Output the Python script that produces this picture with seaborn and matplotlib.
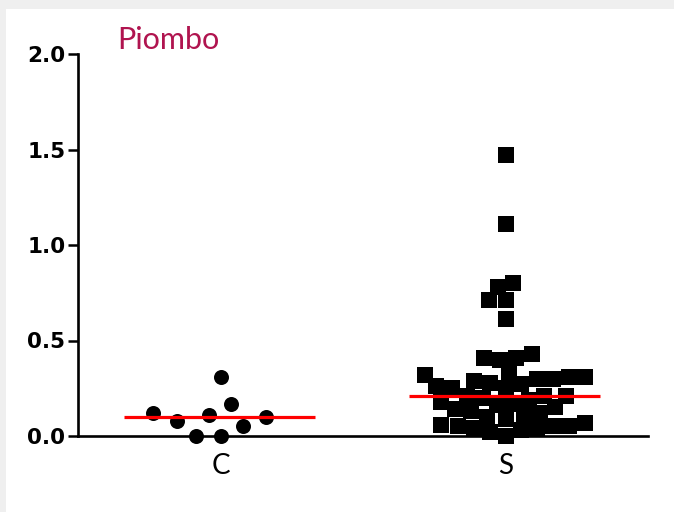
import matplotlib
matplotlib.use("Agg")
import matplotlib.pyplot as plt
from matplotlib.patches import Rectangle
import numpy as np
import pandas as pd
import seaborn as sns

# Lead (Piombo) levels per group
groups = ["C", "S"]
c_values = [0.12, 0.10, 0.05, 0.31, 0.17, 0.00, 0.00, 0.08, 0.11]
s_values = [1.47, 1.11, 0.80, 0.78, 0.71, 0.71, 0.61, 0.43, 0.41, 0.41, 0.40,
            0.33, 0.32, 0.31, 0.31, 0.30, 0.30, 0.29, 0.28, 0.27, 0.26, 0.25, 0.25, 0.21,
            0.21, 0.21, 0.20, 0.19, 0.18, 0.17, 0.16, 0.15, 0.14, 0.13, 0.12, 0.11,
            0.10, 0.09, 0.07, 0.06, 0.05, 0.05, 0.05, 0.04, 0.04, 0.03, 0.02, 0.00]
y_ticks = [0.0, 0.5, 1.0, 1.5, 2.0]
title = "Piombo"

df_c = pd.DataFrame({"group": "C", "value": c_values})
df_s = pd.DataFrame({"group": "S", "value": s_values})

sns.set_theme(style="ticks")
plt.rcParams["font.family"] = ["DejaVu Sans"]

fig = plt.figure(figsize=(6.74, 5.12), dpi=100)
fig.patch.set_facecolor("#efefef")
fig.add_artist(Rectangle((6 / 674, 0), 1, (512 - 9) / 512, transform=fig.transFigure,
                         facecolor="white", edgecolor="none", zorder=0))

ax = fig.add_axes([78 / 674, 76 / 512, 570 / 674, 382 / 512])
ax.set_facecolor("none")

# Swarm layout spacing (points) and the drawn marker sizes (points)
layout_sizes = {"C": 17.0, "S": 11.2}
marker_sizes = {"C": 10.8, "S": 12.2}

sns.swarmplot(data=df_c, x="group", y="value", order=groups, color="black",
              marker="o", size=layout_sizes["C"], linewidth=0, ax=ax,
              clip_on=False, zorder=3)
sns.swarmplot(data=df_s, x="group", y="value", order=groups, color="black",
              marker="s", size=layout_sizes["S"], linewidth=0, ax=ax,
              clip_on=False, zorder=3)

ax.set_xlim(-0.5, 1.5)
ax.set_ylim(0, 2.0)

# Fix the swarm positions, then draw the markers at their final size
fig.canvas.draw()
for coll, key in zip(ax.collections, groups):
    if "draw" in coll.__dict__:
        del coll.draw
    coll.set_sizes([marker_sizes[key] ** 2])

# Median lines
for i, vals in enumerate([c_values, s_values]):
    med = np.median(vals)
    ax.hlines(med, i - 0.34, i + 0.33, color="#ff0000", linewidth=2.3, zorder=4)

ax.set_yticks(y_ticks)
ax.set_yticklabels([f"{t:.1f}" for t in y_ticks], fontsize=15.5, fontweight="heavy")
ax.set_xticks([0, 1])
ax.set_xticklabels(groups, fontsize=20, family="Lato")
ax.set_xlabel("")
ax.set_ylabel("")

for side in ["top", "right"]:
    ax.spines[side].set_visible(False)
for side in ["left", "bottom"]:
    ax.spines[side].set_linewidth(1.9)
    ax.spines[side].set_color("black")
ax.tick_params(axis="y", length=7, width=1.8, pad=2, colors="black")
ax.tick_params(axis="x", length=4, width=1.8, pad=8, colors="black")

fig.text(117 / 674, (512 - 49) / 512, title, color="#b0144f", fontsize=22,
         family="Lato", va="baseline", ha="left")

fig.savefig("out.png", dpi=100, facecolor=fig.get_facecolor())
